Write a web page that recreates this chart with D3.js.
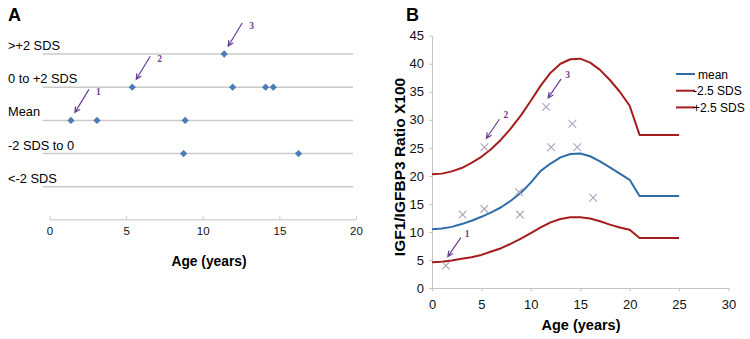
<!DOCTYPE html>
<html>
<head>
<meta charset="utf-8">
<script src="https://cdn.jsdelivr.net/npm/d3@7"></script>
<style>
  body { margin: 0; background: #fff; }
  svg { font-family: "Liberation Sans", Arial, sans-serif; }
  .grid-line { stroke: #cacaca; stroke-width: 1.5; }
  .axis path, .axis line { stroke: #c4c4c4; }
  .axis text { fill: #111; }
  .arrow { stroke: #6b3d94; stroke-width: 1.2; fill: none; }
  .arrow-label { fill: #6b3d94; font-family: "Liberation Serif", serif; font-weight: bold; font-size: 9.5px; }
</style>
</head>
<body>
<div id="wrapper"></div>
<script>
// panel A: SDS category of each patient
const categories = [">+2 SDS", "0 to +2 SDS", "Mean", "-2 SDS to 0", "<-2 SDS"]
const patientAgeA = [11.4, 5.4, 11.95, 14.1, 14.6, 1.4, 3.1, 8.85, 8.75, 16.25]
const patientCatA = [">+2 SDS", "0 to +2 SDS", "0 to +2 SDS", "0 to +2 SDS", "0 to +2 SDS", "Mean", "Mean", "Mean", "-2 SDS to 0", "-2 SDS to 0"]
const xTicksA = [0, 5, 10, 15, 20]
// annotated patients in A (index into patient arrays, label)
const annotA = [[5, "1"], [1, "2"], [0, "3"]]

// panel B: reference curves
const refAge = [0, 1, 2, 3, 4, 5, 6, 7, 8, 9, 10, 11, 12, 13, 14, 15, 16, 17, 18, 19, 20, 21, 25]
const refMean = [10.5, 10.6, 10.9, 11.4, 12.0, 12.7, 13.5, 14.4, 15.6, 17.0, 18.8, 20.9, 22.2, 23.3, 23.9, 24.0, 23.5, 22.6, 21.5, 20.4, 19.3, 16.4, 16.4]
const refLow = [4.6, 4.7, 4.9, 5.2, 5.5, 5.9, 6.5, 7.1, 7.9, 8.8, 9.8, 10.8, 11.7, 12.3, 12.6, 12.6, 12.4, 11.9, 11.3, 10.8, 10.4, 8.9, 8.9]
const refHigh = [20.3, 20.4, 20.8, 21.4, 22.3, 23.4, 24.8, 26.5, 28.5, 30.8, 33.4, 36.1, 38.4, 40.0, 40.8, 40.9, 40.2, 38.9, 37.1, 35.0, 32.5, 27.3, 27.3]
const patientAgeB = [1.4, 3.1, 5.3, 5.3, 8.8, 8.9, 11.55, 12.05, 14.2, 14.7, 16.3]
const patientRatioB = [4.0, 13.1, 14.1, 25.1, 17.1, 13.1, 32.3, 25.1, 29.3, 25.1, 16.1]
const annotB = [[0, "1"], [3, "2"], [6, "3"]]
const xTicksB = [0, 5, 10, 15, 20, 25, 30]
const yTicksB = [0, 5, 10, 15, 20, 25, 30, 35, 40, 45]
const legendLabels = ["mean", "-2.5 SDS", "+2.5 SDS"]
const legendColors = ["#2f6ca8", "#a51c1c", "#a51c1c"]

const svg = d3.select("#wrapper").append("svg")
    .attr("width", 750)
    .attr("height", 339)

function drawArrow(g, x, y, tip, tail, labelOff, label) {
  const x1 = x + tail[0], y1 = y + tail[1], x2 = x + tip[0], y2 = y + tip[1]
  const ang = Math.atan2(y2 - y1, x2 - x1)
  const h = 6
  g.append("path")
      .attr("class", "arrow")
      .attr("d", `M${x1},${y1}L${x2},${y2}` +
        `M${x2 - h * Math.cos(ang - 0.45)},${y2 - h * Math.sin(ang - 0.45)}L${x2},${y2}` +
        `L${x2 - h * Math.cos(ang + 0.45)},${y2 - h * Math.sin(ang + 0.45)}`)
  g.append("text")
      .attr("class", "arrow-label")
      .attr("x", x + labelOff[0])
      .attr("y", y + labelOff[1])
      .text(label)
}

// ---------- panel A ----------
const gA = svg.append("g")

gA.append("text")
    .attr("x", 8).attr("y", 21)
    .style("font-weight", "bold").style("font-size", "18px")
    .text("A")

const xA = d3.scaleLinear().domain([0, 20]).range([49.5, 356])
const yA = d3.scalePoint().domain(categories).range([54, 186.8])

gA.selectAll(".grid-line")
  .data(categories)
  .join("line")
    .attr("class", "grid-line")
    .attr("x1", 42.7).attr("x2", 353)
    .attr("y1", d => yA(d)).attr("y2", d => yA(d))

gA.selectAll(".cat-label")
  .data(categories)
  .join("text")
    .attr("class", "cat-label")
    .attr("x", 8)
    .attr("y", d => yA(d) - 4)
    .style("font-size", "12.8px")
    .text(d => d)

const xAxisA = gA.append("g")
    .attr("class", "axis")
    .attr("transform", "translate(0,219.3)")
    .call(d3.axisTop(xA).tickValues(xTicksA).tickSize(3).tickSizeOuter(0).tickFormat(d3.format("d")))
xAxisA.selectAll("text")
    .attr("y", 15.5).attr("dy", 0)
    .style("font-size", "11.5px").style("font-family", "Liberation Sans, Arial, sans-serif")

gA.append("text")
    .attr("x", 209).attr("y", 266)
    .attr("text-anchor", "middle")
    .style("font-weight", "bold").style("font-size", "13.8px")
    .text("Age (years)")

gA.selectAll(".diamond")
  .data(patientAgeA)
  .join("path")
    .attr("class", "diamond")
    .attr("d", d3.symbol(d3.symbolDiamond2, 34))
    .attr("transform", (d, i) => `translate(${xA(d)},${yA(patientCatA[i])})`)
    .attr("fill", "#4a7cb6")

annotA.forEach(([i, label]) => {
  drawArrow(gA, xA(patientAgeA[i]), yA(patientCatA[i]), [4, -8], [18, -31], [25, -25], label)
})

// ---------- panel B ----------
const gB = svg.append("g")

gB.append("text")
    .attr("x", 406).attr("y", 21)
    .style("font-weight", "bold").style("font-size", "18px")
    .text("B")

const xB = d3.scaleLinear().domain([0, 30]).range([432, 728.5])
const yB = d3.scaleLinear().domain([0, 45]).range([288, 35.7])

const xAxisB = gB.append("g")
    .attr("class", "axis")
    .attr("transform", "translate(0,288)")
    .call(d3.axisBottom(xB).tickValues(xTicksB).tickSize(3).tickSizeOuter(0))
xAxisB.selectAll("text")
    .attr("y", 12).attr("dy", "0.71em")
    .style("font-size", "13px").style("font-family", "Liberation Sans, Arial, sans-serif")

const yAxisB = gB.append("g")
    .attr("class", "axis")
    .attr("transform", "translate(432,0)")
    .call(d3.axisLeft(yB).tickValues(yTicksB).tickSize(3).tickSizeOuter(0))
yAxisB.selectAll("text")
    .attr("x", -8)
    .style("font-size", "13px").style("font-family", "Liberation Sans, Arial, sans-serif")

gB.append("text")
    .attr("x", 581).attr("y", 330)
    .attr("text-anchor", "middle")
    .style("font-weight", "bold").style("font-size", "14.5px")
    .text("Age (years)")

gB.append("text")
    .attr("transform", "translate(405,167) rotate(-90)")
    .attr("text-anchor", "middle")
    .style("font-weight", "bold").style("font-size", "15.5px")
    .text("IGF1/IGFBP3 Ratio X100")

const lineGenerator = vals => d3.line()
    .x((d, i) => xB(refAge[i]))
    .y(d => yB(d))(vals)

const curves = [refMean, refHigh, refLow]
const curveColors = [legendColors[0], legendColors[1], legendColors[2]]
curves.forEach((vals, k) => {
  gB.append("path")
      .attr("d", lineGenerator(vals))
      .attr("fill", "none")
      .attr("stroke", curveColors[k])
      .attr("stroke-width", 2)
      .attr("stroke-linejoin", "round")
})

gB.selectAll(".cross")
  .data(patientAgeB)
  .join("path")
    .attr("class", "cross")
    .attr("d", "M-3.8,-3.8L3.8,3.8M-3.8,3.8L3.8,-3.8")
    .attr("transform", (d, i) => `translate(${xB(d)},${yB(patientRatioB[i])})`)
    .attr("stroke", "#aaa4bd")
    .attr("stroke-width", 1.1)

annotB.forEach(([i, label]) => {
  drawArrow(gB, xB(patientAgeB[i]), yB(patientRatioB[i]), [2, -9], [15, -28], [19, -29], label)
})

// legend
const legend = gB.append("g").attr("transform", "translate(676,74)")
legendLabels.forEach((label, i) => {
  const row = legend.append("g").attr("transform", `translate(0,${i * 16.7})`)
  row.append("line")
      .attr("x1", 0).attr("x2", 19)
      .attr("stroke", legendColors[i]).attr("stroke-width", 2)
  row.append("text")
      .attr("x", i === 0 ? 22 : 17).attr("y", 4.5)
      .style("font-size", "12px")
      .text(label)
})
</script>
</body>
</html>
